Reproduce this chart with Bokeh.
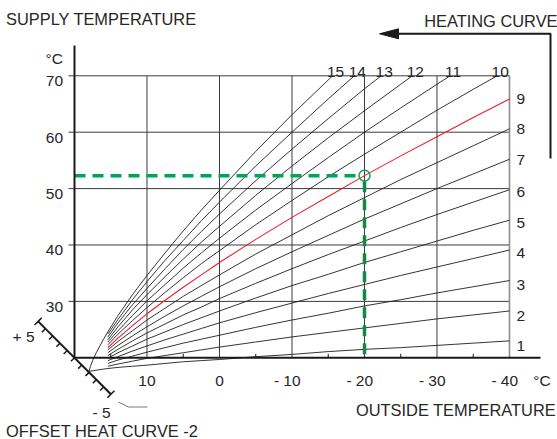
from bokeh.plotting import figure
from bokeh.models import Range1d, ColumnDataSource
from bokeh.core.properties import value
from bokeh.embed import file_html
from bokeh.resources import INLINE

# ---------------- values ----------------
# outside temperature sample points (°C) shared by the heating curves
OUTSIDE_TEMP = [15.4, 14, 12, 10, 7.5, 5, 2.5, 0, -5, -10, -15, -20, -25, -30, -35, -40]

# supply temperature (°C) of each heating curve 1..15
CURVE_1_X = [18, 17, 16] + OUTSIDE_TEMP
CURVE_1 = [17.6, 17.8, 18.0, 18.1, 18.3, 18.5, 18.7, 19.0, 19.3, 19.5, 19.7, 20.2, 20.6, 21.1, 21.5, 21.8, 22.2, 22.6, 23.0]
CURVE_2 = [18.5, 18.9, 19.4, 19.9, 20.4, 20.9, 21.4, 21.9, 22.8, 23.7, 24.5, 25.3, 26.1, 26.9, 27.6, 28.3]
CURVE_3 = [19.0, 19.6, 20.3, 21.0, 21.8, 22.6, 23.3, 24.0, 25.4, 26.7, 27.9, 29.2, 30.3, 31.5, 32.6, 33.7]
CURVE_4 = [19.5, 20.2, 21.2, 22.1, 23.2, 24.2, 25.2, 26.2, 28.0, 29.7, 31.4, 33.0, 34.6, 36.1, 37.6, 39.1]
CURVE_5 = [19.9, 20.9, 22.1, 23.3, 24.6, 25.9, 27.1, 28.3, 30.6, 32.8, 34.8, 36.9, 38.8, 40.7, 42.6, 44.4]
CURVE_6 = [20.4, 21.5, 23.0, 24.4, 26.0, 27.6, 29.0, 30.5, 33.2, 35.8, 38.3, 40.7, 43.1, 45.4, 47.6, 49.8]
CURVE_7 = [20.9, 22.2, 23.9, 25.5, 27.4, 29.2, 30.9, 32.6, 35.8, 38.8, 41.7, 44.6, 47.3, 50.0, 52.6, 55.2]
CURVE_8 = [21.4, 22.9, 24.8, 26.7, 28.8, 30.9, 32.8, 34.7, 38.4, 41.8, 45.2, 48.4, 51.6, 54.6, 57.6, 60.6]
CURVE_9 = [21.8, 23.5, 25.7, 27.8, 30.2, 32.5, 34.7, 36.9, 41.0, 44.9, 48.6, 52.3, 55.8, 59.2, 62.6, 65.9]
CURVE_10_X = OUTSIDE_TEMP[:15] + [-38.3]
CURVE_10 = [22.3, 24.2, 26.6, 28.9, 31.6, 34.2, 36.7, 39.0, 43.6, 47.9, 52.1, 56.1, 60.0, 63.9, 67.6, 70.0]
CURVE_11_X = OUTSIDE_TEMP[:14] + [-31.8]
CURVE_11 = [22.8, 24.8, 27.5, 30.1, 33.0, 35.9, 38.6, 41.2, 46.2, 50.9, 55.5, 60.0, 64.3, 68.5, 70.0]
CURVE_12_X = OUTSIDE_TEMP[:13] + [-26.6]
CURVE_12 = [23.2, 25.5, 28.5, 31.2, 34.4, 37.5, 40.5, 43.3, 48.8, 54.0, 59.0, 63.8, 68.5, 70.0]
CURVE_13_X = OUTSIDE_TEMP[:12] + [-22.3]
CURVE_13 = [23.7, 26.2, 29.4, 32.3, 35.8, 39.2, 42.4, 45.5, 51.4, 57.0, 62.4, 67.7, 70.0]
CURVE_14_X = OUTSIDE_TEMP[:11] + [-18.6]
CURVE_14 = [24.2, 26.8, 30.3, 33.5, 37.3, 40.8, 44.3, 47.6, 54.0, 60.0, 65.9, 70.0]
CURVE_15_X = [18, 17.8, 17.5, 17, 16] + OUTSIDE_TEMP[:10] + [-15.6]
CURVE_15 = [17.6, 18.5, 19.5, 20.9, 23.3, 24.6, 27.5, 31.2, 34.6, 38.6, 42.5, 46.2, 49.7, 56.6, 63.1, 70.0]

CURVE_NUMBERS = list(range(1, 16))
HIGHLIGHT_CURVE = 9

X_TICKS = [10, 0, -10, -20, -30, -40]
X_TICK_LABELS = ["10", "0", "- 10", "- 20", "- 30", "- 40"]
X_MINOR_TICKS = [15, 5, -5, -15, -25, -35]
Y_TICKS = [30, 40, 50, 60, 70]
Y_TICK_LABELS = ["30", "40", "50", "60", "70"]
AXIS_ORIGIN = 20          # both axes cross at 20 °C
TOP_SUPPLY = 70
LAST_OUTSIDE = -40

DESIGN_OUTSIDE = -20      # design point (green marker)
DESIGN_SUPPLY = 52.3

OFFSET_STEPS = [5, 4, 3, 2, 1, 0, -1, -2, -3, -4, -5]

# ---------------- layout ----------------
W, H = 557, 439
PAGE = 0
X_START, X_END = 30.207, -46.621
Y_START, Y_END = 5.514, 83.351
SX = W / (X_START - X_END)
SY = H / (Y_END - Y_START)


def dx(page_x):
    return X_START - (page_x - PAGE) / SX


def dy(page_y):
    return Y_END - (page_y - PAGE) / SY


FONT = value("Liberation Sans")
TXT = "#262626"
NUM = "15.5px"
BIG = "16.4px"
GRID = "#3c3c3c"
INK = "#1a1a1a"

p = figure(width=W, height=H, x_range=Range1d(X_START, X_END), y_range=Range1d(Y_START, Y_END),
           output_backend="svg", toolbar_location=None, x_axis_location=None, y_axis_location=None,
           min_border=0, outline_line_color=None, background_fill_color="white",
           border_fill_color="white")
p.grid.visible = False

# grid
n = len(Y_TICKS)
p.segment(x0=[AXIS_ORIGIN + 6 / SX] * n, y0=Y_TICKS, x1=[LAST_OUTSIDE] * n, y1=Y_TICKS,
          line_color=GRID, line_width=1)
inner = X_TICKS[:-1]
p.segment(x0=inner, y0=[AXIS_ORIGIN] * len(inner), x1=inner, y1=[TOP_SUPPLY] * len(inner),
          line_color=GRID, line_width=1)
p.segment(x0=[LAST_OUTSIDE], y0=[AXIS_ORIGIN], x1=[LAST_OUTSIDE], y1=[TOP_SUPPLY],
          line_color="#8c8c8c", line_width=1.6)

# heating curves
curves = [(CURVE_1_X, CURVE_1), (OUTSIDE_TEMP, CURVE_2), (OUTSIDE_TEMP, CURVE_3),
          (OUTSIDE_TEMP, CURVE_4), (OUTSIDE_TEMP, CURVE_5), (OUTSIDE_TEMP, CURVE_6),
          (OUTSIDE_TEMP, CURVE_7), (OUTSIDE_TEMP, CURVE_8), (OUTSIDE_TEMP, CURVE_9),
          (CURVE_10_X, CURVE_10), (CURVE_11_X, CURVE_11), (CURVE_12_X, CURVE_12),
          (CURVE_13_X, CURVE_13), (CURVE_14_X, CURVE_14), (CURVE_15_X, CURVE_15)]
for num, (xs, ts) in zip(CURVE_NUMBERS, curves):
    if num != HIGHLIGHT_CURVE:
        p.line(xs, ts, line_color="#1e1e1e", line_width=0.9)
hx, ht = curves[HIGHLIGHT_CURVE - 1]
p.line(hx, ht, line_color="#ee1c25", line_width=1.1)

# design point
p.line([AXIS_ORIGIN, DESIGN_OUTSIDE + 5.5 / SX], [DESIGN_SUPPLY, DESIGN_SUPPLY],
       line_color="#00a651", line_width=3.5, line_dash="11 7")
p.line([DESIGN_OUTSIDE, DESIGN_OUTSIDE], [DESIGN_SUPPLY - 5.5 / SY, AXIS_ORIGIN],
       line_color="#17864a", line_width=3.5, line_dash="11 7")
p.scatter([DESIGN_OUTSIDE], [DESIGN_SUPPLY], marker="circle", size=11, fill_color=None,
          line_color="#00a651", line_width=1.5)

# axes
p.segment(x0=[AXIS_ORIGIN], y0=[AXIS_ORIGIN], x1=[AXIS_ORIGIN], y1=[dy(45)], line_color=INK, line_width=2)
p.segment(x0=[AXIS_ORIGIN + 1 / SX], y0=[AXIS_ORIGIN], x1=[dx(540)], y1=[AXIS_ORIGIN],
          line_color=INK, line_width=2)
m = len(X_MINOR_TICKS)
p.segment(x0=X_MINOR_TICKS, y0=[AXIS_ORIGIN] * m, x1=X_MINOR_TICKS, y1=[AXIS_ORIGIN + 4 / SY] * m,
          line_color=INK, line_width=1)

# tick labels
p.text(x=[AXIS_ORIGIN] * n, y=Y_TICKS, text=Y_TICK_LABELS, text_align="right",
       text_baseline="alphabetic", x_offset=-11.5, y_offset=5.4, text_font=FONT,
       text_font_size=NUM, text_color=TXT)
p.text(x=[AXIS_ORIGIN], y=[TOP_SUPPLY], text=["°C"], text_align="right", text_baseline="alphabetic",
       x_offset=-11.5, y_offset=-17, text_font=FONT, text_font_size=NUM, text_color=TXT)
xsrc = ColumnDataSource(dict(x=X_TICKS, y=[AXIS_ORIGIN] * len(X_TICKS), t=X_TICK_LABELS,
                             xo=[4.3 * len(s.split()[-1]) for s in X_TICK_LABELS]))
p.text(x="x", y="y", text="t", x_offset="xo", y_offset=23, source=xsrc, text_align="right",
       text_baseline="alphabetic", text_font=FONT, text_font_size=NUM, text_color=TXT)
p.text(x=[dx(541.5)], y=[AXIS_ORIGIN], text=["°C"], text_align="center", text_baseline="alphabetic",
       y_offset=23, text_font=FONT, text_font_size=NUM, text_color=TXT)

# curve labels
rx, ry, rt, ro = [], [], [], []
tx, ty, tt = [], [], []
for num, (xs, ts) in zip(CURVE_NUMBERS, curves):
    if ts[-1] < TOP_SUPPLY:
        rx.append(xs[-1]); ry.append(ts[-1]); rt.append(str(num)); ro.append(5.4 - 0.7 * (num - 1))
    else:
        tx.append(xs[-1]); ty.append(ts[-1]); tt.append(str(num))
p.text(x="x", y="y", text="t", y_offset="yo", source=ColumnDataSource(dict(x=rx, y=ry, t=rt, yo=ro)),
       x_offset=7, text_align="left", text_baseline="alphabetic", text_font=FONT,
       text_font_size=NUM, text_color=TXT)
p.text(x=tx, y=ty, text=tt, x_offset=3, y_offset=-3.6, text_align="center",
       text_baseline="alphabetic", text_font=FONT, text_font_size=NUM, text_color=TXT)

# offset scale (diagonal through the axis corner)
cx, cy = 74.0, 357.3
step = 51.5 / 5
u = 0.7071
pos = [(cx - k * step * u, cy - k * step * u) for k in OFFSET_STEPS]
p.line([dx(pos[0][0]), dx(pos[-1][0])], [dy(pos[0][1]), dy(pos[-1][1])], line_color=INK, line_width=2)
t0x, t0y, t1x, t1y = [], [], [], []
for i, (ax, ay) in enumerate(pos):
    tl = 5.0
    if i in (0, len(pos) - 1):
        t0x.append(dx(ax + tl * u)); t0y.append(dy(ay - tl * u))
    else:
        t0x.append(dx(ax)); t0y.append(dy(ay))
    t1x.append(dx(ax - tl * u)); t1y.append(dy(ay + tl * u))
p.segment(x0=t0x, y0=t0y, x1=t1x, y1=t1y, line_color=INK, line_width=1.5)
p.text(x=[dx(34)], y=[dy(336)], text=["+ 5"], text_align="right", text_baseline="alphabetic",
       text_font=FONT, text_font_size=NUM, text_color=TXT)
p.text(x=[dx(92)], y=[dy(411.5)], text=["- 5"], text_align="left", text_baseline="alphabetic",
       text_font=FONT, text_font_size=NUM, text_color=TXT)
p.line([dx(118), dx(128), dx(147)], [dy(401.5), dy(406.5), dy(406.5)], line_color="#777777", line_width=1)

# titles
p.text(x=[dx(5.5)], y=[dy(18.3)], text=["SUPPLY TEMPERATURE"], text_align="left",
       text_baseline="alphabetic", text_font=FONT, text_font_size=BIG, text_color=TXT)
p.text(x=[dx(557)], y=[dy(20.7)], text=["HEATING CURVE"], text_align="right",
       text_baseline="alphabetic", text_font=FONT, text_font_size=BIG, text_color=TXT)
p.text(x=[dx(555.5)], y=[dy(409.3)], text=["OUTSIDE TEMPERATURE"], text_align="right",
       text_baseline="alphabetic", text_font=FONT, text_font_size=BIG, text_color=TXT)
p.text(x=[dx(5.5)], y=[dy(430)], text=["OFFSET HEAT CURVE  -2"], text_align="left",
       text_baseline="alphabetic", text_font=FONT, text_font_size=BIG, text_color=TXT)

# heating-curve arrow
p.line([dx(396), dx(550), dx(550)], [dy(33.3), dy(33.3), dy(158)], line_color=INK, line_width=2)
p.patch([dx(379), dx(398), dx(398)], [dy(33.3), dy(28.3), dy(38.3)], fill_color=INK, line_color=INK)

open("out.html", "w").write(file_html(p, INLINE))
